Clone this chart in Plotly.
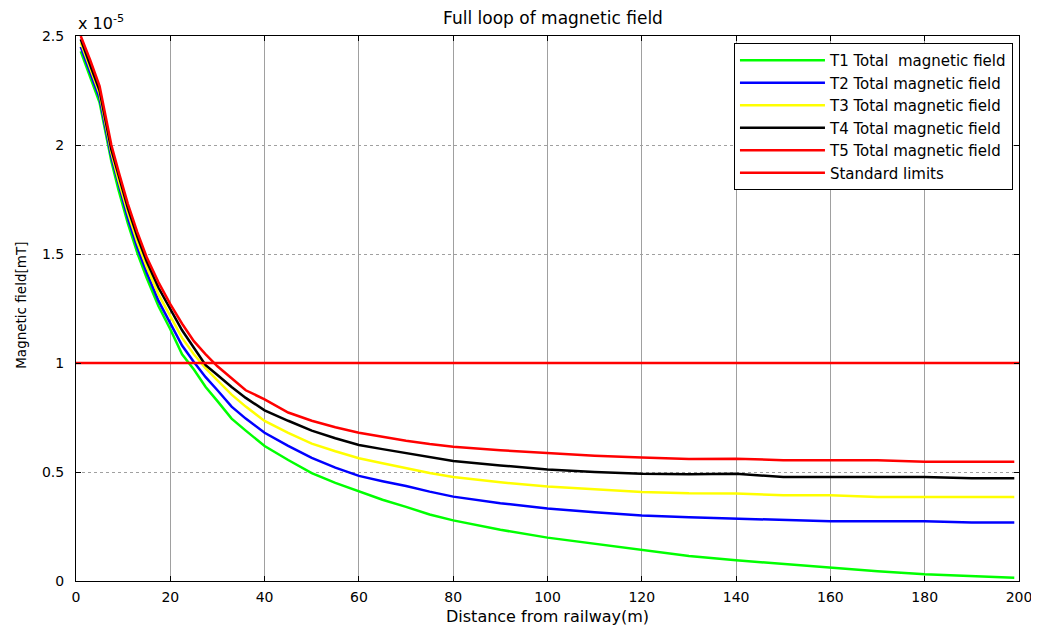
import plotly.graph_objects as go

SCALE = 1e-5
distance = [1, 3, 5, 7.5, 9, 11, 13, 15, 17.5, 20, 22.5, 25, 27.5, 30, 33, 36, 40, 45, 50, 55,
            60, 65, 70, 75, 80, 90, 100, 110, 120, 130, 140, 150, 160, 170, 180, 190, 199]

t1 = [2.43, 2.315, 2.195, 1.925, 1.795, 1.64, 1.505, 1.39, 1.26, 1.155, 1.04, 0.97, 0.89, 0.825, 0.745, 0.69,
      0.619, 0.555, 0.495, 0.45, 0.413, 0.373, 0.34, 0.305, 0.278, 0.235, 0.199, 0.17, 0.141, 0.115, 0.095,
      0.078, 0.061, 0.045, 0.031, 0.023, 0.015]
t2 = [2.45, 2.335, 2.215, 1.945, 1.82, 1.665, 1.53, 1.415, 1.285, 1.185, 1.08, 1.005, 0.935, 0.875, 0.80, 0.745,
      0.680, 0.62, 0.565, 0.52, 0.482, 0.458, 0.436, 0.41, 0.387, 0.357, 0.333, 0.315, 0.301, 0.292, 0.286,
      0.278, 0.274, 0.274, 0.274, 0.268, 0.268]
t3 = [2.47, 2.355, 2.235, 1.965, 1.84, 1.69, 1.555, 1.44, 1.315, 1.215, 1.115, 1.04, 0.975, 0.92, 0.855, 0.80,
      0.734, 0.68, 0.63, 0.595, 0.563, 0.54, 0.517, 0.495, 0.477, 0.453, 0.433, 0.42, 0.408, 0.402, 0.401,
      0.393, 0.393, 0.385, 0.385, 0.385, 0.385]
t4 = [2.485, 2.37, 2.25, 1.98, 1.86, 1.71, 1.58, 1.465, 1.345, 1.245, 1.15, 1.07, 0.99, 0.945, 0.89, 0.84,
      0.783, 0.735, 0.69, 0.655, 0.624, 0.605, 0.586, 0.567, 0.550, 0.53, 0.512, 0.50, 0.492, 0.49, 0.492,
      0.477, 0.477, 0.477, 0.477, 0.471, 0.471]
t5 = [2.50, 2.39, 2.27, 2.00, 1.88, 1.73, 1.60, 1.485, 1.37, 1.27, 1.18, 1.10, 1.04, 0.985, 0.93, 0.875,
      0.833, 0.773, 0.735, 0.705, 0.680, 0.66, 0.643, 0.628, 0.616, 0.60, 0.586, 0.575, 0.566, 0.56, 0.561,
      0.554, 0.554, 0.554, 0.547, 0.547, 0.547]
limit_x = [0, 200]
limit_y = [1.0, 1.0]

names = ["T1 Total\u00a0 magnetic field", "T2 Total magnetic field", "T3 Total magnetic field",
         "T4 Total magnetic field", "T5 Total magnetic field"]
colors = ["#00ff00", "#0000ff", "#ffff00", "#000000", "#ff0000"]
series = [t1, t2, t3, t4, t5]

x_ticks = [0, 20, 40, 60, 80, 100, 120, 140, 160, 180, 200]
y_ticks = [0, 0.5, 1, 1.5, 2, 2.5]
y_ticklabels = ["0", "0.5", "1", "1.5", "2", "2.5"]

FONT = "DejaVu Sans, Liberation Sans, Arial, sans-serif"

W, H = 1032, 618
L, T, R, B = 68, 28, 21, 45

fig = go.Figure()
for name, col, vals in zip(names, colors, series):
    fig.add_trace(go.Scatter(x=distance, y=[v * SCALE for v in vals], mode="lines", name=name,
                             line=dict(color=col, width=2.5)))
fig.add_trace(go.Scatter(x=limit_x, y=[v * SCALE for v in limit_y], mode="lines", name="Standard limits",
                         line=dict(color="#ff0000", width=2.5)))

fig.update_layout(
    width=W, height=H,
    margin=dict(l=L, r=R, t=T, b=B),
    paper_bgcolor="white", plot_bgcolor="white",
    font=dict(family=FONT, size=14, color="black"),
    title=dict(text="Full loop of magnetic field", x=545 / W, xanchor="center",
               y=1 - 10.5 / H, yanchor="middle", font=dict(size=17)),
    showlegend=True,
    legend=dict(x=0.9936, y=0.987, xanchor="right", yanchor="top", bgcolor="white",
                bordercolor="black", borderwidth=1, font=dict(size=15), itemwidth=85,
                tracegroupgap=0),
)
fig.update_xaxes(range=[0, 200], tickvals=x_ticks, ticks="inside", ticklen=5, tickcolor="black",
                 showline=True, linecolor="black", linewidth=1, mirror="ticks",
                 showgrid=True, gridcolor="#a0a0a0", gridwidth=1, zeroline=False,
                 tickfont=dict(size=14), ticklabelstandoff=3, automargin=False)
fig.update_yaxes(range=[0, 2.5 * SCALE], tickvals=[v * SCALE for v in y_ticks], ticktext=y_ticklabels,
                 ticks="inside", ticklen=5, tickcolor="black",
                 showline=True, linecolor="black", linewidth=1, mirror="ticks",
                 showgrid=True, gridcolor="#a0a0a0", gridwidth=1, griddash="dot", zeroline=False,
                 tickfont=dict(size=14), ticklabelstandoff=8, automargin=False)

# axis titles and exponent label
fig.add_annotation(text="Distance from railway(m)", xref="paper", yref="paper", x=0.5, y=-35 / 545,
                   xanchor="center", yanchor="middle", showarrow=False, font=dict(size=16))
fig.add_annotation(text="Magnetic field[mT]", xref="paper", yref="paper", x=-55 / 943, y=0.505,
                   xanchor="center", yanchor="middle", textangle=-90, showarrow=False,
                   font=dict(size=13.5))
fig.add_annotation(text="x 10<sup>-5</sup>", xref="paper", yref="paper", x=0, y=1, xanchor="left",
                   yanchor="bottom", showarrow=False, font=dict(size=16), yshift=1)

fig.write_html("out.html")
